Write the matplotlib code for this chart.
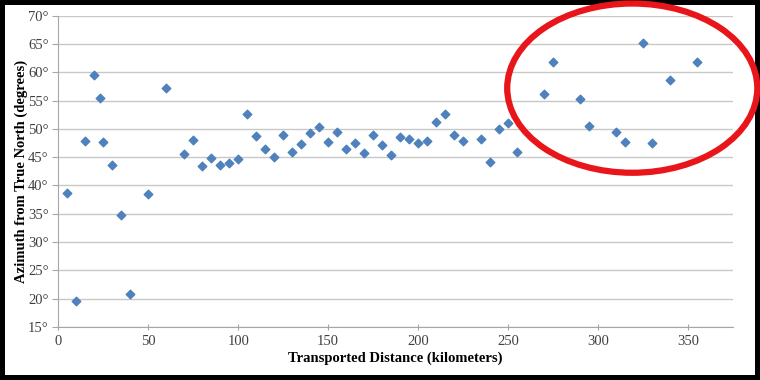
import matplotlib.pyplot as plt
from matplotlib.patches import Ellipse

# data
distance_km = [5, 10, 15, 20, 23, 25, 30, 35, 40, 50, 60, 70, 75, 80, 85, 90, 95, 100,
               105, 110, 115, 120, 125, 130, 135, 140, 145, 150, 155, 160, 165, 170,
               175, 180, 185, 190, 195, 200, 205, 210, 215, 220, 225, 235, 240, 245,
               250, 255, 270, 275, 290, 295, 310, 315, 325, 330, 340, 355]
azimuth_deg = [38.7, 19.6, 47.8, 59.6, 55.4, 47.6, 43.6, 34.7, 20.8, 38.5, 57.3, 45.6,
               48.1, 43.4, 44.8, 43.6, 43.9, 44.6, 52.7, 48.7, 46.4, 45.1, 48.9, 46.0,
               47.3, 49.2, 50.4, 47.6, 49.4, 46.5, 47.5, 45.8, 48.9, 47.2, 45.4, 48.6,
               48.3, 47.5, 47.8, 51.2, 52.6, 48.9, 47.8, 48.3, 44.2, 49.9, 51.1, 46.0,
               56.1, 61.8, 55.2, 50.5, 49.5, 47.6, 65.1, 47.5, 58.7, 61.9]
x_ticks = [0, 50, 100, 150, 200, 250, 300, 350]
y_ticks = [15, 20, 25, 30, 35, 40, 45, 50, 55, 60, 65, 70]

plt.rcParams['font.family'] = ['Liberation Serif', 'DejaVu Serif']

fig = plt.figure(figsize=(7.6, 3.8), dpi=100)
fig.patch.set_facecolor('white')
fig.patch.set_edgecolor('black')
fig.patch.set_linewidth(6)

ax = fig.add_axes([0.0767, 0.1395, 0.8878, 0.8192])
ax.scatter(distance_km, azimuth_deg, marker='D', s=19, color='#4F81BD', zorder=3)

ax.set_xlim(0, 375)
ax.set_ylim(15, 70)
ax.set_xticks(x_ticks)
ax.set_yticks(y_ticks)
ax.set_yticklabels([f'{t}\u00b0' for t in y_ticks])
ax.grid(axis='y', color='#C8C8C8', linewidth=1)
ax.set_axisbelow(True)

for side in ['top', 'right']:
    ax.spines[side].set_visible(False)
for side in ['left', 'bottom']:
    ax.spines[side].set_color('#A6A6A6')
ax.tick_params(axis='y', length=4, color='#A6A6A6', labelsize=10.5, labelcolor='#404040', pad=3)
ax.tick_params(axis='x', length=4, direction='inout', color='#A6A6A6', labelsize=10.5,
               labelcolor='#404040', pad=4)

ax.set_xlabel('Transported Distance (kilometers)', fontsize=10.5, fontweight='bold', labelpad=2)
ax.set_ylabel('Azimuth from True North (degrees)', fontsize=10.5, fontweight='bold', labelpad=0)

# red highlight ellipse
ell = Ellipse((319, 57.2), 139, 29.9, fill=False, edgecolor='#E8161A', linewidth=4.5,
              clip_on=False, zorder=4)
ax.add_patch(ell)

fig.savefig('out.png', dpi=100, edgecolor=fig.get_edgecolor())
